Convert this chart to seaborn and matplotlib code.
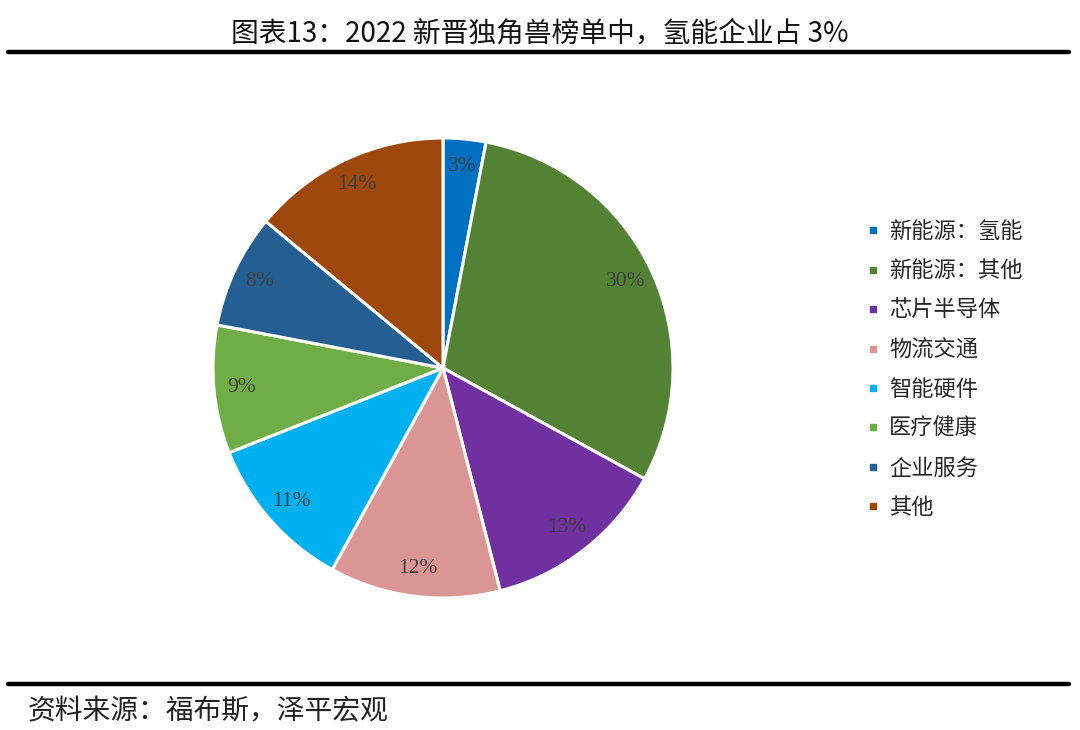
import matplotlib
matplotlib.use('Agg')
from matplotlib import pyplot as plt
from matplotlib.lines import Line2D
import seaborn as sns

# data
categories = ['新能源：氢能', '新能源：其他', '芯片半导体', '物流交通',
              '智能硬件', '医疗健康', '企业服务', '其他']
shares = [3, 30, 13, 12, 11, 9, 8, 14]
colors = ['#0070C0', '#548235', '#7030A0', '#DA9694',
          '#00B0F0', '#70AD47', '#255E91', '#9E480E']

title_text = '图表13：2022 新晋独角兽榜单中，氢能企业占 3%'
source_text = '资料来源：福布斯，泽平宏观'

sns.set_theme(style='white')
plt.rcParams['font.family'] = ['Noto Sans CJK SC', 'DejaVu Sans']

W, H = 1080, 730
fig = plt.figure(figsize=(W / 100, H / 100), dpi=100)
fig.patch.set_facecolor('white')

# pie centre ~ (443, 368) px, radius ~230 px
cx, cy, r = 443, 368, 230
ax = fig.add_axes([(cx - r) / W, (H - cy - r) / H, 2 * r / W, 2 * r / H])

wedges, texts, autotexts = ax.pie(
    shares, colors=colors, startangle=90, counterclock=False,
    autopct='%d%%', pctdistance=0.88,
    wedgeprops={'edgecolor': 'white', 'linewidth': 2.2},
    textprops={'family': ['Liberation Serif', 'DejaVu Serif'],
               'fontsize': 15.5, 'color': '#404040'})
ax.set_xlim(-1.0, 1.0)
ax.set_ylim(-1.0, 1.0)
ax.set_aspect('auto')
ax.axis('off')

# legend with small square markers
handles = [Line2D([0], [0], marker='s', linestyle='none', markersize=5,
                  markerfacecolor=c, markeredgecolor=c) for c in colors]
fig.legend(handles, categories, loc='upper left',
           bbox_to_anchor=(866 / W, 1 - 220 / H), frameon=False,
           fontsize=16, handlelength=0.6, handletextpad=0.45,
           labelspacing=0.74, borderaxespad=0, borderpad=0)

# title and rules
fig.text(540 / W, 1 - 33 / H, title_text, ha='center', va='center',
         fontsize=20, color='#111111')
fig.add_artist(Line2D([8 / W, 1069 / W], [1 - 52 / H, 1 - 52 / H],
                      color='black', linewidth=3.2, transform=fig.transFigure))
fig.add_artist(Line2D([8 / W, 1069 / W], [1 - 683.5 / H, 1 - 683.5 / H],
                      color='black', linewidth=3.2, transform=fig.transFigure))
fig.text(28 / W, 1 - 711 / H, source_text, ha='left', va='center',
         fontsize=20, color='#222222', style='italic')

plt.savefig('out.png', dpi=100, facecolor='white')
